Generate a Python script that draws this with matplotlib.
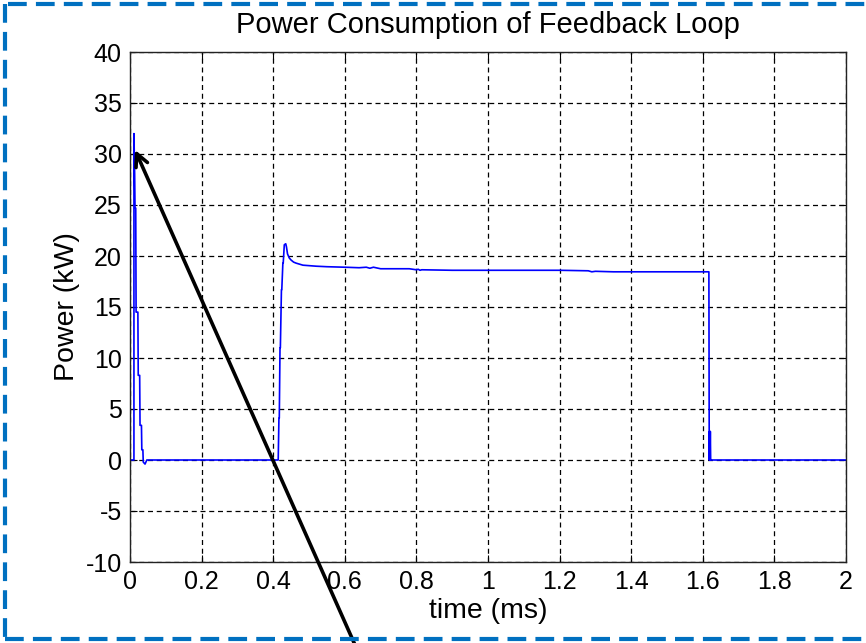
import matplotlib
matplotlib.use("Agg")
import matplotlib.pyplot as plt
from matplotlib.lines import Line2D

plt.rcParams['font.family'] = ['Liberation Sans', 'DejaVu Sans']
plt.rcParams['axes.unicode_minus'] = False

# ---- data (time in ms, power in kW) ----
time_ms = [0.0, 0.011, 0.011, 0.013, 0.014, 0.016, 0.017, 0.022, 0.023, 0.027,
           0.028, 0.032, 0.033, 0.036, 0.037, 0.042, 0.047, 0.414, 0.416, 0.417,
           0.419, 0.420, 0.423, 0.424, 0.427, 0.428, 0.431, 0.435, 0.437, 0.440,
           0.445, 0.450, 0.457, 0.464, 0.483, 0.52, 0.55, 0.60, 0.64, 0.66,
           0.67, 0.68, 0.70, 0.78, 0.80, 0.805, 0.81, 0.815, 0.9, 1.0, 1.1,
           1.2, 1.28, 1.29, 1.30, 1.35, 1.45, 1.55, 1.617, 1.618, 1.619, 1.620,
           1.621, 1.622, 1.623, 1.7, 1.8, 2.0]
power_kw = [0.0, 0.0, 32.0, 28.0, 24.7, 24.7, 14.5, 14.5, 8.3, 8.3,
            3.4, 3.4, 1.0, 1.0, -0.2, -0.4, 0.0, 0.0, 4.1, 4.1,
            11.0, 11.0, 16.7, 16.7, 19.3, 19.3, 21.1, 21.2, 20.9, 20.2,
            19.8, 19.6, 19.4, 19.3, 19.1, 19.0, 18.95, 18.9, 18.85, 18.9,
            18.8, 18.9, 18.75, 18.75, 18.65, 18.7, 18.6, 18.65, 18.6, 18.6, 18.6,
            18.6, 18.55, 18.45, 18.5, 18.45, 18.45, 18.45, 18.45, 0.0, 2.8, 0.0,
            2.8, 0.0, 0.0, 0.0, 0.0, 0.0]

x_ticks = [0, 0.2, 0.4, 0.6, 0.8, 1.0, 1.2, 1.4, 1.6, 1.8, 2.0]
x_tick_labels = ['0', '0.2', '0.4', '0.6', '0.8', '1', '1.2', '1.4', '1.6', '1.8', '2']
y_ticks = [-10, -5, 0, 5, 10, 15, 20, 25, 30, 35, 40]

fig = plt.figure(figsize=(8.66, 6.43), dpi=100)
ax = fig.add_axes([130/866, 1-562/643, (846-130)/866, (562-52)/643])

ax.plot(time_ms, power_kw, color='#0000ff', lw=1.2)

ax.set_xlim(0, 2)
ax.set_ylim(-10, 40)
ax.set_xticks(x_ticks)
ax.set_xticklabels(x_tick_labels)
ax.set_yticks(y_ticks)
ax.tick_params(direction='in', length=5, width=0.8, top=True, right=True,
               labelsize=18, pad=6, colors='black')
ax.grid(True, color='black', linestyle=(0, (4, 3)), linewidth=0.9)
for s in ax.spines.values():
    s.set_linewidth(1.0)
    s.set_color('#222222')

ax.set_title('Power Consumption of Feedback Loop', fontsize=21, pad=14)
ax.set_xlabel('time (ms)', fontsize=20.5, labelpad=3)
ax.set_ylabel('Power (kW)', fontsize=20.5, labelpad=4)

# arrow pointing at the spike
ax.annotate('', xy=(0.014, 30.4), xycoords='data',
            xytext=(357/866, -0.01), textcoords='figure fraction',
            arrowprops=dict(arrowstyle='->,head_length=0.9,head_width=0.45',
                            lw=2.6, color='black', shrinkA=0, shrinkB=0),
            annotation_clip=False)

# blue dashed frame (top, left, bottom)
blue = '#0070c0'
dash = (0, (4.5, 2.2))
fig.add_artist(Line2D([8/866, 1.0], [1-4/643, 1-4/643], color=blue, lw=3, linestyle=dash,
                      transform=fig.transFigure))
fig.add_artist(Line2D([5/866, 5/866], [1-4/643, 1-639/643], color=blue, lw=3, linestyle=dash,
                      transform=fig.transFigure))
fig.add_artist(Line2D([5/866, 1.0], [1-639/643, 1-639/643], color=blue, lw=3, linestyle=dash,
                      transform=fig.transFigure))

fig.savefig('out.png', dpi=100)
